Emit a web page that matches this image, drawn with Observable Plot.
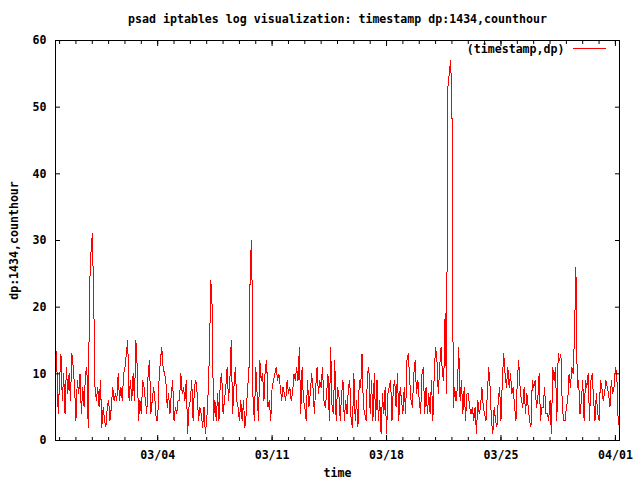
<!DOCTYPE html>
<html><head><meta charset="utf-8">
<script src="https://cdn.jsdelivr.net/npm/d3@7"></script>
<script src="https://cdn.jsdelivr.net/npm/@observablehq/plot@0.6"></script>
<style>body{margin:0;background:#fff}</style>
</head><body><div id="chart"></div>
<script>
const title = "psad iptables log visualization: timestamp dp:1434,counthour";
const xLabel = "time";
const yLabel = "dp:1434,counthour";
const seriesName = "(timestamp,dp)";
const firstHour = 18; // first day of the log starts at 18:00, values every 2 hours
const dayLabels = ["2008-02-26","2008-02-27","2008-02-28","2008-02-29","2008-03-01","2008-03-02","2008-03-03",
  "2008-03-04","2008-03-05","2008-03-06","2008-03-07","2008-03-08","2008-03-09","2008-03-10",
  "2008-03-11","2008-03-12","2008-03-13","2008-03-14","2008-03-15","2008-03-16","2008-03-17",
  "2008-03-18","2008-03-19","2008-03-20","2008-03-21","2008-03-22","2008-03-23","2008-03-24",
  "2008-03-25","2008-03-26","2008-03-27","2008-03-28","2008-03-29","2008-03-30","2008-03-31","2008-04-01"];
const counts = [
  [15,11,4],
  [9,13,6,10,4,11,7,10,6,13,11,8],
  [3,9,7,10,4,8,5,10,11,2,23,28],
  [31,22,8,6,8,5,9,2,5,3,2,5],
  [6,3,5,8,6,7,6,10,6,8,6,10],
  [11,13,15,6,9,6,10,6,15,11,3,6],
  [4,9,8,6,4,10,12,4,6,8,6,3],
  [3,9,12,14,11,10,9,5,7,4,7,9],
  [3,5,4,6,6,10,7,8,6,9,1,5],
  [6,9,3,8,9,7,3,5,4,2,5,1],
  [3,7,13,24,20,3,6,3,7,3,9,10],
  [4,6,8,11,6,9,15,4,8,11,6,5],
  [3,6,3,6,2,4,8,10,27,30,6,3],
  [11,7,3,12,9,10,6,11,12,5,6,3],
  [8,9,10,11,9,10,8,6,8,7,6,9],
  [7,8,6,7,10,9,11,9,14,4,11,6],
  [5,3,9,5,7,10,8,4,8,11,7,9],
  [8,11,6,5,7,10,3,14,5,4,12,3],
  [8,7,3,7,9,3,6,4,8,9,3,2],
  [10,3,6,2,9,8,13,5,4,3,10,11],
  [4,9,3,10,3,9,3,6,1,7,4,8],
  [1,7,8,9,3,8,9,5,10,3,8,6],
  [4,8,4,12,13,9,6,5,10,12,7,9],
  [6,4,10,11,4,8,4,7,4,9,3,10],
  [14,12,7,11,14,10,9,19,7,53,55,57],
  [51,5,8,6,8,14,6,9,4,8,3,7],
  [7,5,4,5,3,5,1,6,4,5,8,5],
  [4,3,7,11,8,3,1,5,3,2,6,8],
  [3,9,13,10,8,11,8,10,7,8,5,3],
  [9,12,8,6,5,8,4,7,5,3,2,9],
  [8,9,5,6,10,3,5,5,8,4,4,3],
  [6,1,11,9,11,3,13,12,13,5,3,3],
  [5,6,10,8,11,10,16,26,8,9,4,6],
  [9,3,9,8,10,3,9,10,6,3,7,4],
  [3,9,8,6,7,9,8,7,5,9,7,8],
  [11,10,3,2]
];
const xTickLabels = ["03/04","03/11","03/18","03/25","04/01"];
const tickYear = "2008";
const yTicks = [0,10,20,30,40,50,60];

const parseDay = d3.utcParse("%Y-%m-%d");
const data = [];
dayLabels.forEach((d, i) => {
  const base = parseDay(d);
  counts[i].forEach((v, j) => {
    data.push({t: d3.utcHour.offset(base, (i === 0 ? firstHour : 0) + 2 * j), v});
  });
});
const domain = [data[0].t, data[data.length - 1].t];
const parseTick = d3.utcParse("%Y/%m/%d");
const majorTicks = xTickLabels.map(s => parseTick(tickYear + "/" + s));
const minorTicks = d3.utcDay.range(d3.utcDay.ceil(domain[0]), domain[1]);
const fmt = d3.utcFormat("%m/%d");
const blank = () => "";

const legendLine = (index, scales, values, dim) => {
  const x2 = dim.width - dim.marginRight - 13;
  const y = dim.marginTop + 8.5;
  return d3.create("svg:line").attr("x1", x2 - 33).attr("x2", x2).attr("y1", y).attr("y2", y)
    .attr("stroke", "#ff0000").attr("stroke-width", 1).node();
};

const chart = Plot.plot({
  width: 640, height: 480,
  marginLeft: 55, marginRight: 21, marginTop: 40, marginBottom: 40,
  style: {fontFamily: "'DejaVu Sans Mono', monospace", fontSize: "11.6px", fontWeight: "bold", background: "#fff", color: "#000"},
  x: {type: "utc", domain},
  y: {domain: [0, 60]},
  marks: [
    Plot.line(data, {x: "t", y: "v", stroke: "#ff0000", strokeWidth: 1, shapeRendering: "crispEdges"}),
    Plot.frame({stroke: "#000", shapeRendering: "crispEdges"}),
    Plot.axisX(majorTicks, {anchor: "bottom", tickSize: -5, tickPadding: 15.5, tickFormat: fmt, label: null}),
    Plot.axisX(minorTicks, {anchor: "bottom", tickSize: -3, tickFormat: blank, label: null}),
    Plot.axisX(majorTicks, {anchor: "top", tickSize: -5, tickFormat: blank, label: null}),
    Plot.axisX(minorTicks, {anchor: "top", tickSize: -3, tickFormat: blank, label: null}),
    Plot.axisY(yTicks, {anchor: "left", tickSize: -5, tickPadding: 14, label: null}),
    Plot.axisY(yTicks, {anchor: "right", tickSize: -5, tickFormat: blank, label: null}),
    Plot.text([title], {frameAnchor: "top", lineAnchor: "middle", dy: -21}),
    Plot.text([xLabel], {frameAnchor: "bottom", lineAnchor: "middle", dy: 33}),
    Plot.text([yLabel], {frameAnchor: "left", textAnchor: "middle", lineAnchor: "middle", rotate: -90, dx: -41}),
    Plot.text([seriesName], {frameAnchor: "top-right", textAnchor: "end", lineAnchor: "middle", dx: -55, dy: 9}),
    legendLine
  ]
});
document.getElementById("chart").append(chart);
</script>
</body></html>
